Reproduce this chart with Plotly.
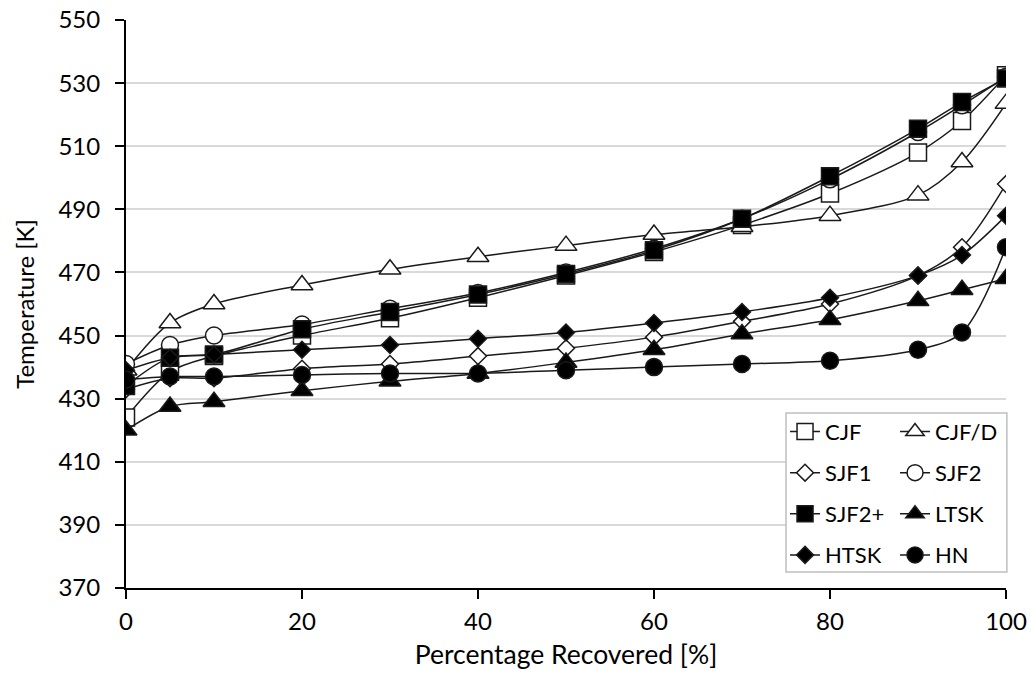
import plotly.graph_objects as go

# ---- data ----
pct = [0, 5, 10, 20, 30, 40, 50, 60, 70, 80, 90, 95, 100]

series_names = ["CJF", "CJF/D", "SJF1", "SJF2", "SJF2+", "LTSK", "HTSK", "HN"]

cjf   = [424, 438.5, 443.5, 450, 455.5, 462, 469, 476.5, 485, 495, 508, 518, 532.5]
cjfd  = [439, 454, 460, 466, 471, 475, 478.5, 482, 484.5, 488, 494.5, 505, 523.5]
sjf1  = [433, 436.5, 436.5, 439.5, 441, 443.5, 446, 449.5, 454.5, 460, 469, 478, 498]
sjf2  = [441, 447, 450, 453.5, 458.5, 463.5, 470, 477.5, 487, 499.5, 514.5, 523, 532]
sjf2p = [434, 443, 444, 452, 457.5, 463, 469.5, 477, 487, 500.5, 515.5, 524, 531.5]
ltsk  = [420, 427.5, 429, 432.5, 435.5, 438, 441.5, 445.5, 450.5, 455, 461, 464.5, 468]
htsk  = [439, 443, 444, 445.5, 447, 449, 451, 454, 457.5, 462, 469, 475.5, 488]
hn    = [436, 437, 437, 437.5, 438, 438, 439, 440, 441, 442, 445.5, 451, 478]

values = [cjf, cjfd, sjf1, sjf2, sjf2p, ltsk, htsk, hn]

y_ticks = [370, 390, 410, 430, 450, 470, 490, 510, 530, 550]
x_ticks = [0, 20, 40, 60, 80, 100]

# ---- styles ----
styles = {
    "CJF":   dict(symbol="square", size=17, fill="white", legend="legend"),
    "CJF/D": dict(symbol="triangle-up", size=19, fill="white", legend="legend2"),
    "SJF1":  dict(symbol="diamond", size=13, fill="white", legend="legend"),
    "SJF2":  dict(symbol="circle", size=17, fill="white", legend="legend2"),
    "SJF2+": dict(symbol="square", size=17, fill="black", legend="legend"),
    "LTSK":  dict(symbol="triangle-up", size=19, fill="black", legend="legend2"),
    "HTSK":  dict(symbol="diamond", size=13, fill="black", legend="legend"),
    "HN":    dict(symbol="circle", size=17, fill="black", legend="legend2"),
}

FONT = "Lato, 'Open Sans', sans-serif"

fig = go.Figure()
for name, vals in zip(series_names, values):
    st = styles[name]
    fig.add_trace(go.Scatter(
        x=pct, y=vals, name=name, mode="lines+markers",
        line=dict(color="#1a1a1a", width=1.5, shape="spline", smoothing=0.9),
        marker=dict(symbol=st["symbol"], size=st["size"], color=st["fill"],
                    line=dict(color="#1a1a1a", width=1.5)),
        legend=st["legend"], legendgroup=name,
    ))

legend_common = dict(
    bgcolor="rgba(0,0,0,0)", borderwidth=0,
    font=dict(family=FONT, size=22, color="black"),
    traceorder="grouped", tracegroupgap=9.5,
    xanchor="left", yanchor="top",
)

fig.update_layout(
    width=1031, height=674,
    margin=dict(l=126, r=25, t=20, b=86, autoexpand=False),
    paper_bgcolor="white", plot_bgcolor="white",
    font=dict(family=FONT, size=24, color="black"),
    showlegend=True,
    legend=dict(x=0.7489, y=0.312, **legend_common),
    legend2=dict(x=0.8739, y=0.312, **legend_common),
    shapes=[dict(type="rect", xref="paper", yref="paper",
                 x0=0.75, x1=1.001, y0=0.0282, y1=0.3081,
                 line=dict(color="#bfbfbf", width=1.5),
                 fillcolor="white", layer="above")],
    xaxis=dict(
        range=[0, 100], tickvals=x_ticks, showgrid=False,
        showline=True, linecolor="black", linewidth=2,
        ticks="outside", ticklen=9, tickwidth=2, tickcolor="black",
        tickfont=dict(size=24), zeroline=False, ticklabelstandoff=2,
        title=dict(text="Percentage Recovered [%]", font=dict(size=26.5), standoff=12),
    ),
    yaxis=dict(
        range=[370, 550], tickvals=y_ticks, showgrid=True,
        gridcolor="#d9d9d9", gridwidth=1.5,
        showline=True, linecolor="black", linewidth=2,
        ticks="outside", ticklen=9, tickwidth=2, tickcolor="black",
        tickfont=dict(size=24), zeroline=False, ticklabelstandoff=10,
        title=dict(text="Temperature [K]", font=dict(size=24), standoff=17),
    ),
)

fig.write_html("out.html")
